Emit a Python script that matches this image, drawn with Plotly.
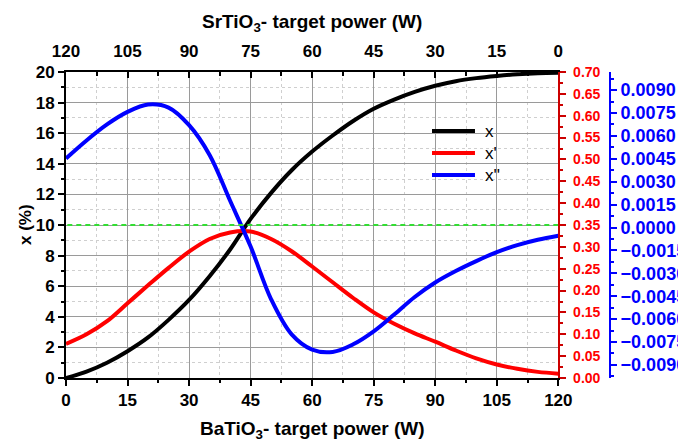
import plotly.graph_objects as go

# ---- data ----
power_ba = [0, 5, 10, 15, 20, 25, 30, 35, 40, 45, 50, 55, 60, 65, 70, 75, 80, 85, 90,
            95, 100, 105, 110, 115, 120]
x_pct = [0, 0.42, 1.0, 1.75, 2.65, 3.8, 5.1, 6.65, 8.4, 10.4, 12.1, 13.58, 14.8, 15.85, 16.8,
         17.6, 18.2, 18.7, 19.1, 19.4, 19.6, 19.74, 19.85, 19.92, 19.95]
x_prime = [0.078, 0.100, 0.130, 0.171, 0.212, 0.252, 0.289, 0.318, 0.333, 0.335, 0.318, 0.290,
           0.255, 0.219, 0.183, 0.150, 0.124, 0.102, 0.083, 0.063, 0.045, 0.031, 0.021, 0.014, 0.010]
x_dprime = [0.00452, 0.00570, 0.00675, 0.00757, 0.00805, 0.00785, 0.00670, 0.00475, 0.00175,
            -0.00125, -0.00470, -0.00700, -0.00800, -0.00815, -0.00765, -0.00680, -0.00570,
            -0.00455, -0.00360, -0.00285, -0.00220, -0.00162, -0.00115, -0.00080, -0.00054]

series_names = ["x", "x'", "x''"]
series_colors = ["black", "#ff0000", "#0000ff"]

zero_line_x = [0, 120]
zero_line_y = [10, 10]

bottom_ticks = [0, 15, 30, 45, 60, 75, 90, 105, 120]
top_ticks = [120, 105, 90, 75, 60, 45, 30, 15, 0]
blue_ticks = [-0.009, -0.0075, -0.006, -0.0045, -0.003, -0.0015, 0,
              0.0015, 0.003, 0.0045, 0.006, 0.0075, 0.009]

FONT = "Arial, 'Liberation Sans', sans-serif"
BOLD = dict(family=FONT, weight="bold")

fig = go.Figure()

# green reference line (drawn on the top axis so that it exists)
fig.add_trace(go.Scatter(x=zero_line_x, y=zero_line_y, xaxis="x2", yaxis="y",
                         mode="lines", line=dict(color="#33dd33", width=2, dash="5px,4px"),
                         showlegend=False, hoverinfo="skip"))

for ys, name, color, yax in zip([x_pct, x_prime, x_dprime], series_names, series_colors,
                                ["y", "y2", "y3"]):
    fig.add_trace(go.Scatter(x=power_ba, y=ys, name=name, mode="lines",
                             line=dict(color=color, width=4, shape="spline", smoothing=1),
                             xaxis="x", yaxis=yax, showlegend=False))

x_dom_end = 0.905

fig.update_layout(
    width=678, height=436,
    margin=dict(l=58, r=76, t=64, b=66),
    paper_bgcolor="white", plot_bgcolor="white",
    font=dict(family=FONT, color="black"),
    xaxis=dict(domain=[0, x_dom_end], range=[0, 120], tickvals=bottom_ticks, automargin=False,
               ticks="outside", ticklen=6, tickwidth=1.5, tickcolor="black",
               showline=True, linecolor="black", linewidth=2,
               showgrid=True, gridcolor="#9a9a9a", gridwidth=1,
               minor=dict(dtick=7.5, ticks="outside", ticklen=3, tickcolor="black",
                          showgrid=True, gridcolor="#cfcfcf", griddash="dot", gridwidth=1),
               tickfont=dict(size=17, **BOLD), zeroline=False),
    xaxis2=dict(overlaying="x", side="top", anchor="y", range=[120, 0], tickvals=top_ticks,
                automargin=False, ticklabelstandoff=6,
                ticks="inside", ticklen=6, tickwidth=1.5, tickcolor="black",
                showline=True, linecolor="black", linewidth=2, showgrid=False,
                minor=dict(dtick=7.5, ticks="inside", ticklen=4, tickcolor="black"),
                tickfont=dict(size=17, **BOLD), zeroline=False),
    yaxis=dict(range=[0, 20], dtick=2, ticks="outside", ticklen=6, tickwidth=1.5,
               automargin=False,
               tickcolor="black", showline=True, linecolor="black", linewidth=2,
               showgrid=True, gridcolor="#9a9a9a", gridwidth=1,
               minor=dict(dtick=1, ticks="outside", ticklen=3, tickcolor="black",
                          showgrid=True, gridcolor="#cfcfcf", griddash="dot", gridwidth=1),
               tickfont=dict(size=17, **BOLD), zeroline=False),
    yaxis2=dict(overlaying="y", side="right", anchor="x", range=[0, 0.7], dtick=0.05,
                automargin=False, ticklabelstandoff=4,
                tickformat=".2f", ticks="outside", ticklen=6, tickwidth=1.5, tickcolor="#cc0000",
                showline=True, linecolor="#cc0000", linewidth=2, showgrid=False,
                minor=dict(dtick=0.025, ticks="outside", ticklen=3, tickcolor="#cc0000"),
                tickfont=dict(size=14, color="#ff0000", **BOLD), zeroline=False),
    yaxis3=dict(overlaying="y", side="right", anchor="free", position=1.0,
                automargin=False,
                range=[-0.009856, 0.010183], tickvals=blue_ticks,
                tickformat=".4f", ticks="outside", ticklen=6, tickwidth=1.5, tickcolor="#0000ff",
                showline=True, linecolor="#0000ff", linewidth=2, showgrid=False,
                minor=dict(dtick=0.00075, tick0=0, ticks="outside", ticklen=3, tickcolor="#0000ff"),
                tickfont=dict(size=18, color="#0000ff", **BOLD), zeroline=False),
    showlegend=False,
)

# legend drawn as paper-space samples (longer line samples than plotly's default legend)
leg_x0, leg_x1, leg_text_x = 0.6728, 0.7518, 0.7665
leg_rows = [0.807, 0.735, 0.663]
for name, color, ly in zip(series_names, series_colors, leg_rows):
    fig.add_shape(type="line", xref="paper", yref="paper", x0=leg_x0, x1=leg_x1, y0=ly, y1=ly,
                  line=dict(color=color, width=4))
    fig.add_annotation(text=name, xref="paper", yref="paper", x=leg_text_x, y=ly,
                       showarrow=False, xanchor="left", yanchor="middle",
                       font=dict(family=FONT, size=17, color="black"))

fig.add_annotation(text="SrTiO<sub>3</sub>- target power (W)", xref="paper", yref="paper",
                   x=x_dom_end / 2, y=1, yshift=49, showarrow=False,
                   font=dict(size=19, **BOLD), xanchor="center", yanchor="middle")
fig.add_annotation(text="BaTiO<sub>3</sub>- target power (W)", xref="paper", yref="paper",
                   x=x_dom_end / 2, y=0, yshift=-52, showarrow=False,
                   font=dict(size=19, **BOLD), xanchor="center", yanchor="middle")
fig.add_annotation(text="x (%)", xref="paper", yref="paper", x=0, xshift=-41, y=0.5,
                   showarrow=False, textangle=-90,
                   font=dict(size=17, **BOLD), xanchor="center", yanchor="middle")

fig.write_html("out.html")
